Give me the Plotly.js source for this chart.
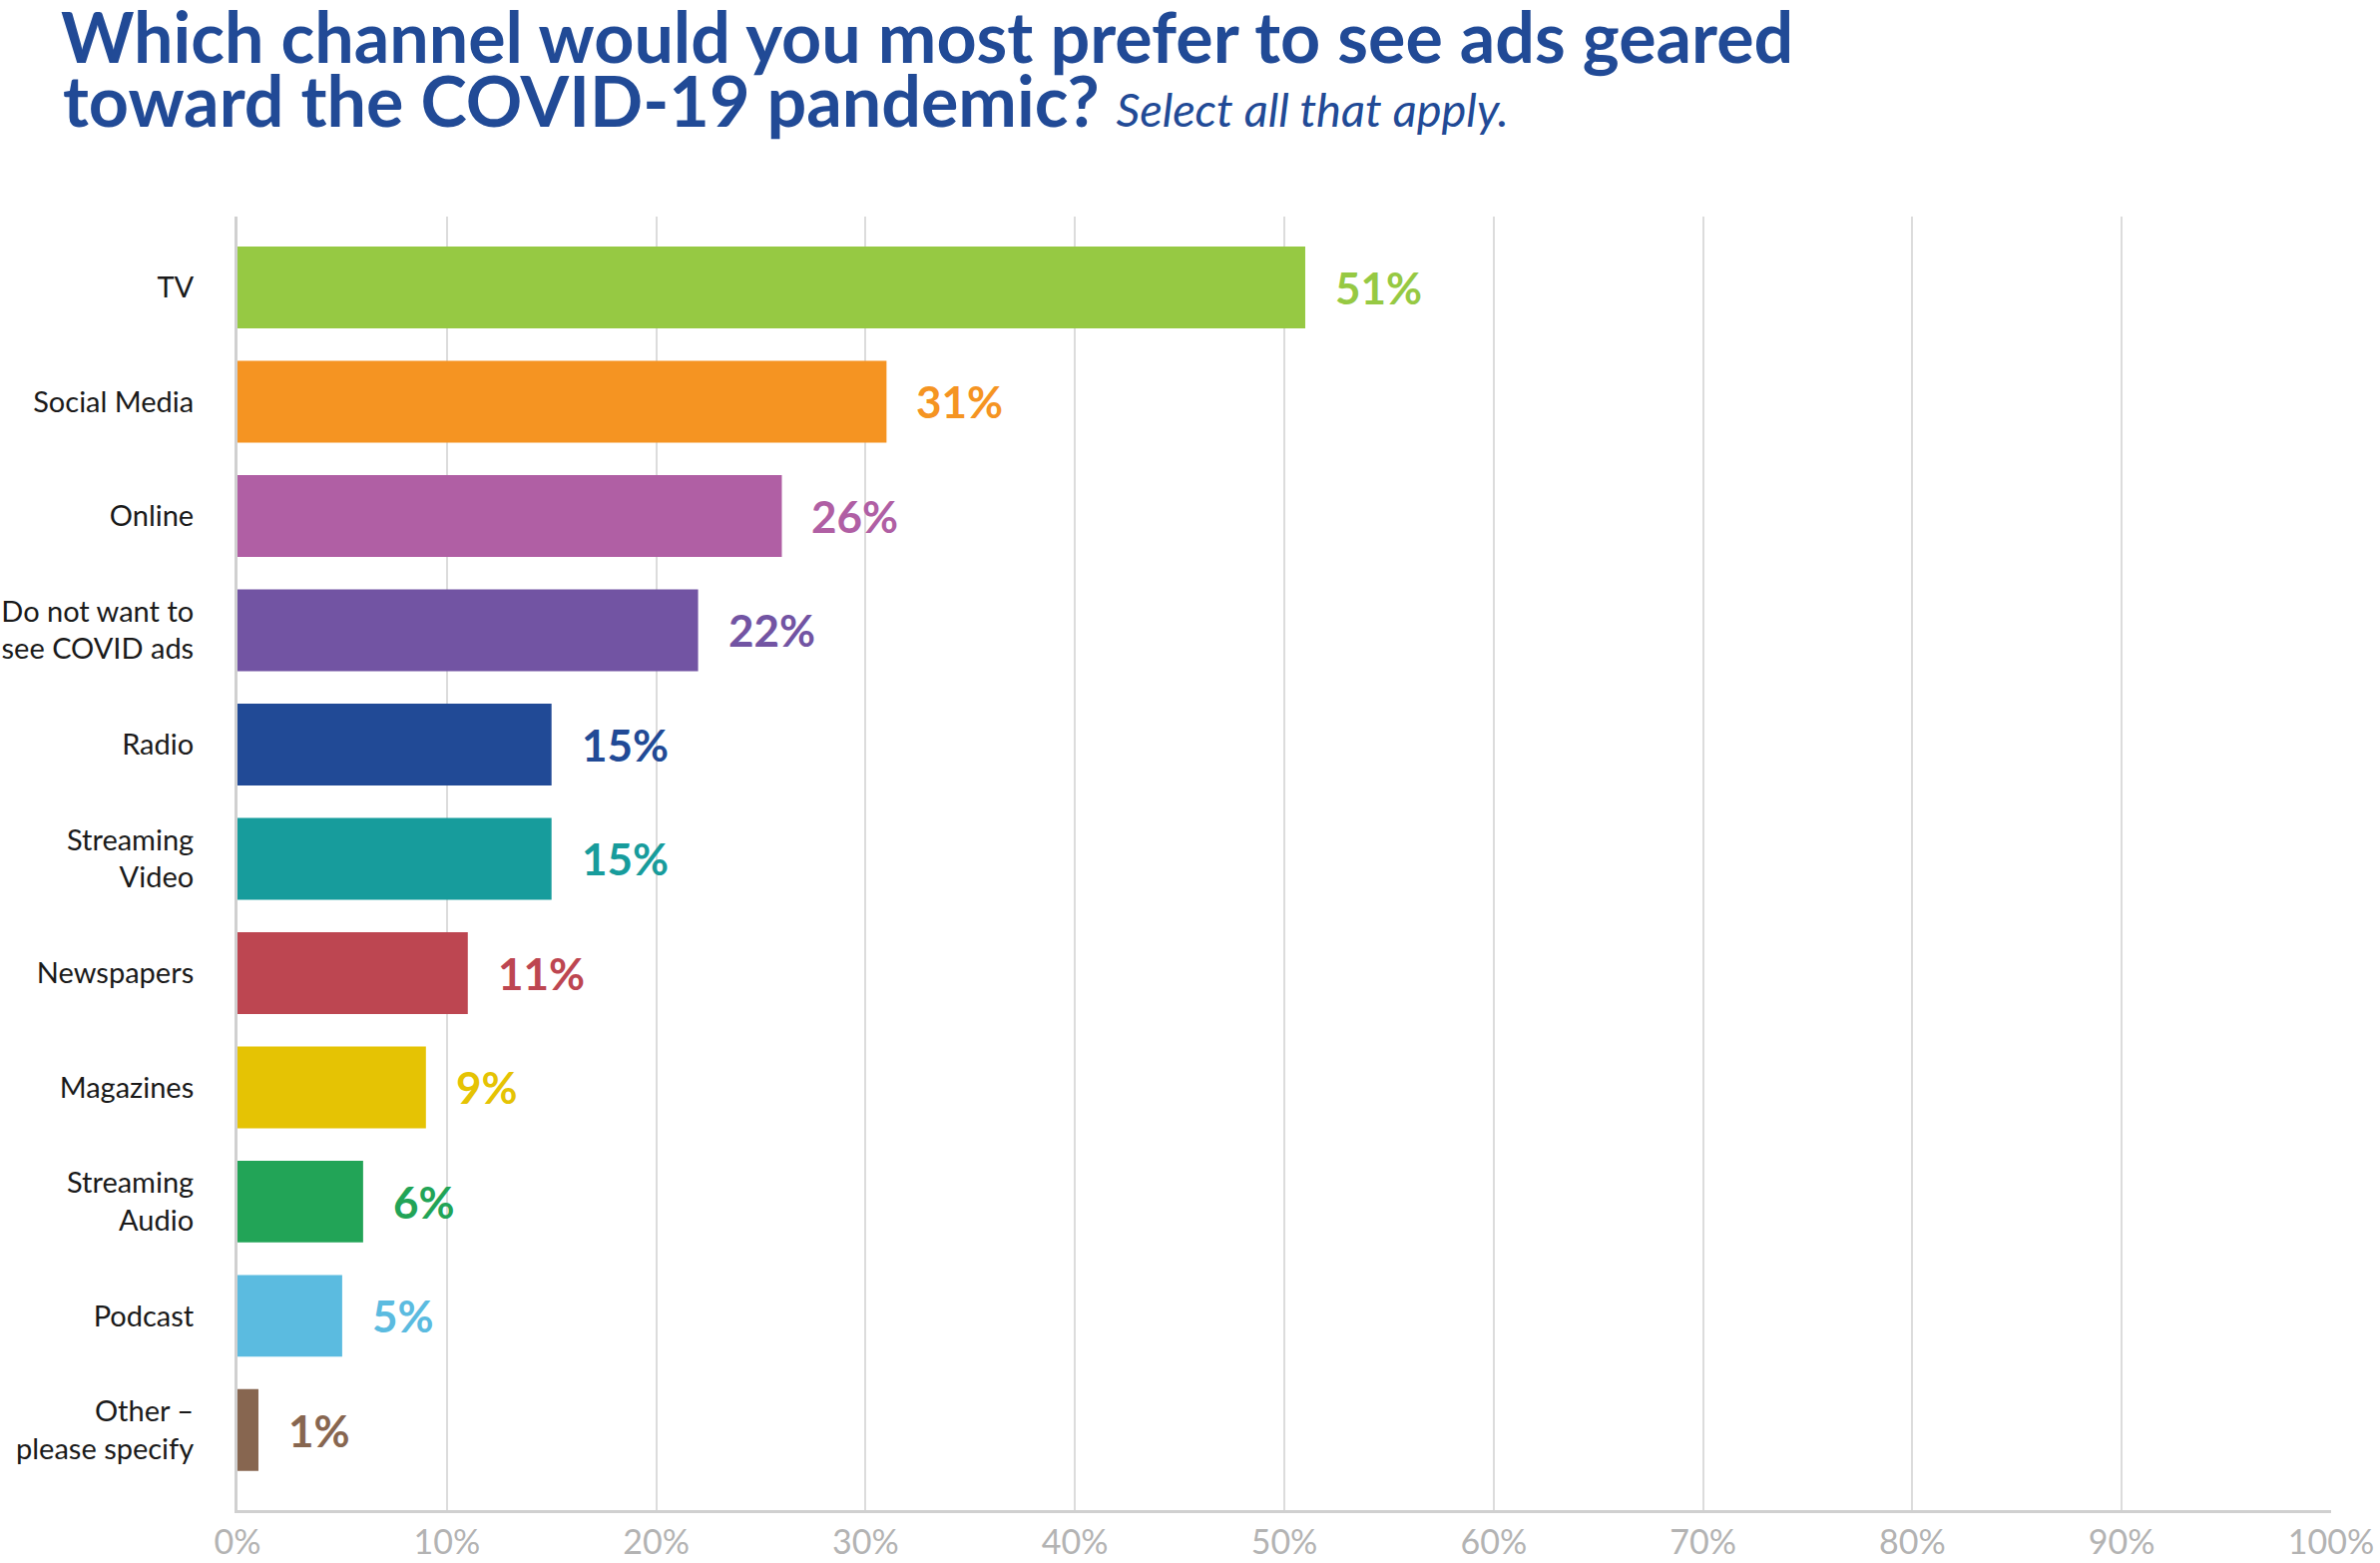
<!DOCTYPE html>
<html>
<head>
<meta charset="utf-8">
<script src="https://cdn.plot.ly/plotly-3.0.1.min.js"></script>
<style>html,body{margin:0;padding:0;background:#fff;}#chart{width:2385px;height:1566px;}</style>
</head>
<body>
<div id="chart"></div>
<script>
const categories = ["TV", "Social Media", "Online", "Do not want to<br>see COVID ads", "Radio", "Streaming<br>Video", "Newspapers", "Magazines", "Streaming<br>Audio", "Podcast", "Other –<br>please specify"];
const values = [51, 31, 26, 22, 15, 15, 11, 9, 6, 5, 1];
const colors = ["#96c943", "#f59422", "#b05fa4", "#7254a3", "#214a96", "#179c9c", "#bd4651", "#e5c304", "#22a457", "#5bbbe0", "#876650"];
const tickValues = [0, 10, 20, 30, 40, 50, 60, 70, 80, 90, 100];
const tickLabels = tickValues.map(v => v + "%");
const titleLine1 = "Which channel would you most prefer to see ads geared";
const titleLine2 = "toward the COVID-19 pandemic?";
const subtitle = "Select all that apply.";

const trace = {
  type: "bar",
  orientation: "h",
  x: values,
  y: categories,
  marker: {color: colors},
  hoverinfo: "none"
};

const annotations = values.map((v, i) => ({
  x: v, y: categories[i], xref: "x", yref: "y",
  text: "<b>" + v + "%</b>",
  showarrow: false, xanchor: "left", yanchor: "middle", xshift: 28,
  font: {family: "Lato, 'Open Sans', sans-serif", size: 44, color: colors[i], weight: 900}
}));

annotations.push({
  xref: "paper", yref: "paper", x: -177/2098, y: (1513 - 100)/1296,
  xanchor: "left", yanchor: "middle",
  text: "<b>" + titleLine2 + "</b> <i><span style='font-size:47px;font-weight:normal'>" + subtitle + "</span></i>",
  showarrow: false,
  font: {family: "Lato, 'Open Sans', sans-serif", size: 70, color: "#214a96", weight: 900}
});

const layout = {
  width: 2385, height: 1566,
  paper_bgcolor: "#fff", plot_bgcolor: "#fff",
  margin: {l: 238, r: 49, t: 217, b: 53},
  showlegend: false,
  bargap: 0.284,
  title: {
    text: "<b>" + titleLine1 + "</b>",
    x: 61/2385, xanchor: "left", xref: "container",
    y: 1 - 38/1566, yanchor: "middle", yref: "container",
    font: {family: "Lato, 'Open Sans', sans-serif", size: 70, color: "#214a96", weight: 900}
  },
  xaxis: {
    range: [0, 100],
    tickvals: tickValues, ticktext: tickLabels,
    showgrid: true, gridcolor: "#dcdcdc", gridwidth: 2,
    showline: true, linecolor: "#d0d0d0", linewidth: 3,
    zeroline: false, ticks: "",
    tickfont: {family: "Lato, 'Open Sans', sans-serif", size: 34, color: "#b3b3b3"},
    fixedrange: true
  },
  yaxis: {
    type: "category",
    categoryorder: "array", categoryarray: categories,
    range: [10.7, -0.62],
    showgrid: false, zeroline: false,
    showline: true, linecolor: "#d0d0d0", linewidth: 3,
    ticks: "outside", ticklen: 35, tickcolor: "rgba(0,0,0,0)",
    tickfont: {family: "Lato, 'Open Sans', sans-serif", size: 29, color: "#1a1a1a"},
    fixedrange: true
  },
  annotations: annotations
};

Plotly.newPlot("chart", [trace], layout, {displayModeBar: false, staticPlot: true});
</script>
</body>
</html>
